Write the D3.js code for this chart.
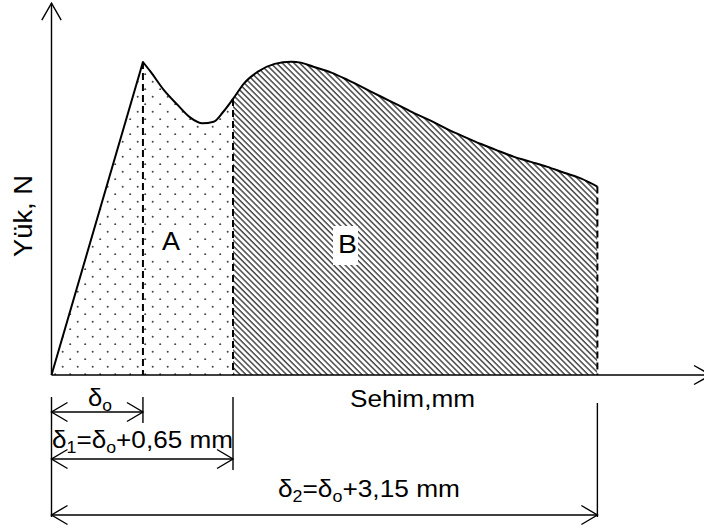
<!DOCTYPE html>
<html>
<head>
<meta charset="utf-8">
<script src="https://cdn.jsdelivr.net/npm/d3@7"></script>
<style>
  html, body { margin: 0; padding: 0; background: #fff; }
  svg { display: block; }
</style>
</head>
<body>
<script>
// Load–deflection curve: deflection (mm) and load (relative, peak = 100)
const deflection = [0, 0.66, 0.715, 0.81, 0.91, 1.00, 1.09, 1.17, 1.24, 1.31, 1.39, 1.49,
  1.61, 1.73, 1.80, 1.89, 2.02, 2.14, 2.26, 2.38, 2.50, 2.62, 2.74, 2.86, 2.98, 3.10,
  3.22, 3.34, 3.46, 3.58, 3.70, 3.82, 3.94];
const load = [0, 100, 96.9, 91.1, 86.3, 82.3, 80.4, 80.9, 84.1, 88.2, 93.2, 96.9,
  99.4, 100.1, 99.8, 98.5, 96.6, 94.2, 91.6, 88.9, 86.3, 83.6, 81.2, 78.5, 76.1, 73.8,
  71.7, 69.7, 68.1, 66.5, 64.6, 62.8, 60.2];

// Characteristic deflections δo, δ1, δ2 (mm)
const markNames = ["δo", "δ1", "δ2"];
const markValues = [0.66, 1.31, 3.94];

// Area labels
const areaNames = ["A", "B"];

// Axis titles
const xTitle = "Sehim,mm";
const yTitle = "Yük, N";

const W = 704, H = 529;
const svg = d3.select("body").append("svg").attr("width", W).attr("height", H);
svg.append("rect").attr("width", W).attr("height", H).attr("fill", "#fff");

const x = d3.scaleLinear().domain([0, 1.31]).range([51.5, 233]);
const y = d3.scaleLinear().domain([0, 100]).range([375, 62]);
const xAxisEnd = 4.76, yAxisEnd = 118.8;

const FONT = "'Liberation Sans', Arial, Helvetica, sans-serif";
const defs = svg.append("defs");

// dotted fill
const dots = defs.append("pattern").attr("id", "dots")
  .attr("patternUnits", "userSpaceOnUse").attr("width", 15).attr("height", 15);
dots.append("rect").attr("width", 15).attr("height", 15).attr("fill", "#fff");
dots.append("circle").attr("cx", 2.7).attr("cy", 6.7).attr("r", 1.0).attr("fill", "#444");
dots.append("circle").attr("cx", 10.2).attr("cy", 14.2).attr("r", 1.0).attr("fill", "#444");

// diagonal hatch fill
const HP = 4.1;
const hatch = defs.append("pattern").attr("id", "hatch")
  .attr("patternUnits", "userSpaceOnUse").attr("width", HP).attr("height", HP)
  .attr("patternTransform", "rotate(45)");
hatch.append("rect").attr("width", HP).attr("height", HP).attr("fill", "#fff");
hatch.append("rect").attr("width", HP).attr("height", 1.5).attr("fill", "#4a4a4a");

// outline of the load curve: straight elastic rise to the peak, smooth afterwards
const pts = deflection.map((d, i) => [x(d), y(load[i])]);
const smooth = d3.line().curve(d3.curveMonotoneX)(pts.slice(1));
const curvePath = `M${pts[0][0]},${pts[0][1]}` + smooth.replace(/^M/, "L");
const areaPath = curvePath + `L${x(markValues[2])},${y(0)}L${x(0)},${y(0)}Z`;

// clip rectangles separating region A (0..δ1) and B (δ1..δ2)
const clipA = defs.append("clipPath").attr("id", "clipA");
clipA.append("rect").attr("x", x(0) - 2).attr("y", 0)
  .attr("width", x(markValues[1]) - x(0) + 2).attr("height", y(0));
const clipB = defs.append("clipPath").attr("id", "clipB");
clipB.append("rect").attr("x", x(markValues[1])).attr("y", 0)
  .attr("width", x(markValues[2]) - x(markValues[1])).attr("height", y(0));

svg.append("path").attr("d", areaPath).attr("fill", "url(#dots)").attr("clip-path", "url(#clipA)");
svg.append("path").attr("d", areaPath).attr("fill", "url(#hatch)").attr("clip-path", "url(#clipB)");

// dashed verticals at δo, δ1, δ2
function loadAt(v) {
  const i = deflection.indexOf(v);
  if (i >= 0) return load[i];
  const j = d3.bisectLeft(deflection, v);
  const t = (v - deflection[j - 1]) / (deflection[j] - deflection[j - 1]);
  return load[j - 1] + t * (load[j] - load[j - 1]);
}
markValues.forEach(v => {
  svg.append("line")
    .attr("x1", x(v)).attr("x2", x(v))
    .attr("y1", y(loadAt(v))).attr("y2", y(0))
    .attr("stroke", "#000").attr("stroke-width", 2)
    .attr("stroke-dasharray", "7,4");
});

// the curve itself
svg.append("path").attr("d", curvePath).attr("fill", "none")
  .attr("stroke", "#000").attr("stroke-width", 2).attr("stroke-linejoin", "round");

// open arrowhead
function arrowHead(tx, ty, dx, dy, len, half, sw) {
  const n = Math.hypot(dx, dy), ux = dx / n, uy = dy / n;
  const bx = tx - ux * len, by = ty - uy * len;
  svg.append("path")
    .attr("d", `M${bx - uy * half},${by + ux * half}L${tx},${ty}L${bx + uy * half},${by - ux * half}`)
    .attr("fill", "none").attr("stroke", "#000").attr("stroke-width", sw);
}

// axes
svg.append("line").attr("x1", x(0)).attr("x2", x(0)).attr("y1", y(0)).attr("y2", y(yAxisEnd))
  .attr("stroke", "#000").attr("stroke-width", 1.4);
arrowHead(x(0), y(yAxisEnd), 0, -1, 17, 9.7, 1.4);
svg.append("line").attr("x1", x(0)).attr("x2", x(xAxisEnd)).attr("y1", y(0)).attr("y2", y(0))
  .attr("stroke", "#000").attr("stroke-width", 1.4);
arrowHead(x(xAxisEnd), y(0), 1, 0, 17, 9.5, 1.4);

// label text with subscripts, stretched to a given width
function label(parts, x0, base, width, size, rotate) {
  const t = svg.append("text").attr("font-family", FONT).attr("font-size", size)
    .attr("fill", "#000");
  let shifted = false;
  parts.forEach(p => {
    const sub = p.length > 1 && p[1];
    const ts = t.append("tspan").text(p[0]);
    if (sub && !shifted) { ts.attr("dy", size * 0.2).attr("font-size", size * 0.68); shifted = true; }
    else if (sub) { ts.attr("font-size", size * 0.68); }
    else if (shifted) { ts.attr("dy", -size * 0.2); shifted = false; }
  });
  const len = t.node().getComputedTextLength();
  const sx = width ? width / len : 1;
  t.attr("transform", `translate(${x0},${base})${rotate ? " rotate(-90)" : ""} scale(${sx},1)`);
  return t;
}

// dimension lines below the axis
const dimY = [412, 459, 515];
const extTop = [397, 397, 403];
const extBottom = [423, 470, 517];
svg.append("line").attr("x1", x(0)).attr("x2", x(0)).attr("y1", 397).attr("y2", 517)
  .attr("stroke", "#000").attr("stroke-width", 1.4);
markValues.forEach((v, i) => {
  svg.append("line").attr("x1", x(v)).attr("x2", x(v)).attr("y1", extTop[i]).attr("y2", extBottom[i])
    .attr("stroke", "#000").attr("stroke-width", 1.4);
  svg.append("line").attr("x1", x(0)).attr("x2", x(v)).attr("y1", dimY[i]).attr("y2", dimY[i])
    .attr("stroke", "#000").attr("stroke-width", 1.4);
  arrowHead(x(0), dimY[i], -1, 0, 16, 9.5, 1.4);
  arrowHead(x(v), dimY[i], 1, 0, 16, 9.5, 1.4);
});

label([["δ"], ["o", true]], 88, 406, 24, 23);
label([["δ"], ["1", true], ["=δ"], ["o", true], ["+0,65 mm"]], 52, 448, 181, 23);
label([["δ"], ["2", true], ["=δ"], ["o", true], ["+3,15 mm"]], 278, 497, 182, 23);

// axis titles
label([[xTitle]], 350, 407, 125, 23);
label([[yTitle]], 32, 257, 82, 25, true);

// area labels on white boxes
const boxA = [157, 228, 30, 30], boxB = [333, 226, 25, 39];
svg.append("rect").attr("x", boxA[0]).attr("y", boxA[1]).attr("width", boxA[2]).attr("height", boxA[3]).attr("fill", "#fff");
svg.append("rect").attr("x", boxB[0]).attr("y", boxB[1]).attr("width", boxB[2]).attr("height", boxB[3]).attr("fill", "#fff");
label([[areaNames[0]]], 162, 250, 18, 26);
label([[areaNames[1]]], 338, 253, 19, 26);
</script>
</body>
</html>
